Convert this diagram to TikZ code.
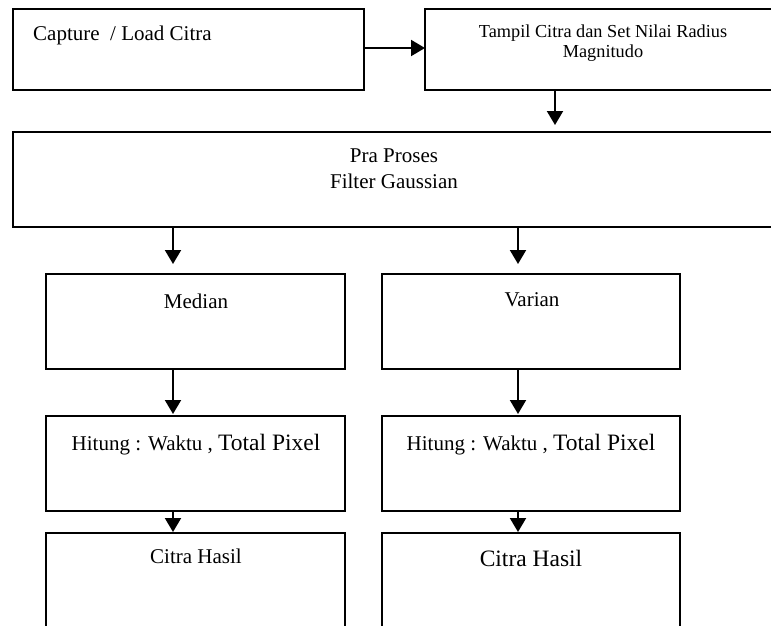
\documentclass[tikz,border=0pt]{standalone}
\usepackage{fontspec}
\setmainfont{Liberation Serif}
\usetikzlibrary{arrows.meta}
\newcommand\fsmall{\fontsize{21}{25}\selectfont}
\newcommand\ftiny{\fontsize{18.3}{21}\selectfont}
\newcommand\fbig{\fontsize{23.5}{28}\selectfont}
\begin{document}
\begin{tikzpicture}[x=1pt,y=-1pt,
  boxshape/.style={draw,line width=2pt,rectangle,inner sep=0pt},
  txt/.style={anchor=base,inner sep=0pt},
  arr/.style={line width=2pt,-{Triangle[length=14pt,width=16pt]}}]
\useasboundingbox (0,0) rectangle (771,625);
% boxes
\draw[boxshape] (13,9) rectangle (364,90);
\node[inner sep=0pt,minimum width=351pt,minimum height=81pt,anchor=north west] (b1) at (13,9) {};
\draw[boxshape] (425,9) rectangle (790,90);
\node[inner sep=0pt,minimum width=365pt,minimum height=81pt,anchor=north west] (b2) at (425,9) {};
\draw[boxshape] (13,132) rectangle (790,227);
\node[inner sep=0pt,minimum width=777pt,minimum height=95pt,anchor=north west] (b3) at (13,132) {};
\draw[boxshape] (46,274) rectangle (345,369);
\node[inner sep=0pt,minimum width=299pt,minimum height=95pt,anchor=north west] (b4) at (46,274) {};
\draw[boxshape] (382,274) rectangle (680,369);
\node[inner sep=0pt,minimum width=298pt,minimum height=95pt,anchor=north west] (b5) at (382,274) {};
\draw[boxshape] (46,416) rectangle (345,511);
\node[inner sep=0pt,minimum width=299pt,minimum height=95pt,anchor=north west] (b6) at (46,416) {};
\draw[boxshape] (382,416) rectangle (680,511);
\node[inner sep=0pt,minimum width=298pt,minimum height=95pt,anchor=north west] (b7) at (382,416) {};
\draw[boxshape] (46,533) rectangle (345,640);
\node[inner sep=0pt,minimum width=299pt,minimum height=107pt,anchor=north west] (b8) at (46,533) {};
\draw[boxshape] (382,533) rectangle (680,640);
\node[inner sep=0pt,minimum width=298pt,minimum height=107pt,anchor=north west] (b9) at (382,533) {};
% texts
\node[txt,anchor=base west] (t1) at (33,40) {\fsmall Capture\ \ / Load Citra};
\node[txt] (t2a) at (603,37) {\ftiny Tampil Citra dan Set Nilai Radius};
\node[txt] (t2b) at (603,57) {\ftiny Magnitudo};
\node[txt] (t3a) at (394,162) {\fsmall Pra Proses};
\node[txt] (t3b) at (394,188) {\fsmall Filter Gaussian};
\node[txt] (t4) at (196,308) {\fsmall Median};
\node[txt] (t5) at (532,306) {\fsmall Varian};
\node[txt] (t6) at (196,450) {\fsmall Hitung : Waktu , \fbig Total Pixel};
\node[txt] (t7) at (531,450) {\fsmall Hitung : Waktu , \fbig Total Pixel};
\node[txt] (t8) at (196,563) {\fsmall Citra Hasil};
\node[txt] (t9) at (531,566) {\fbig Citra Hasil};
% arrow columns
\coordinate (cH) at (0,48);
\coordinate (cA) at (555,0);
\coordinate (cL) at (173,0);
\coordinate (cR) at (518,0);
% arrows
\draw[arr] (b1.east |- cH) -- (b2.west |- cH);
\draw[arr,shorten >=7pt] (b2.south -| cA) -- (b3.north -| cA);
\draw[arr,shorten >=10pt] (b3.south -| cL) -- (b4.north -| cL);
\draw[arr,shorten >=10pt] (b3.south -| cR) -- (b5.north -| cR);
\draw[arr,shorten >=2pt] (b4.south -| cL) -- (b6.north -| cL);
\draw[arr,shorten >=2pt] (b5.south -| cR) -- (b7.north -| cR);
\draw[arr,shorten >=1pt] (b6.south -| cL) -- (b8.north -| cL);
\draw[arr,shorten >=1pt] (b7.south -| cR) -- (b9.north -| cR);
\end{tikzpicture}
\end{document}
